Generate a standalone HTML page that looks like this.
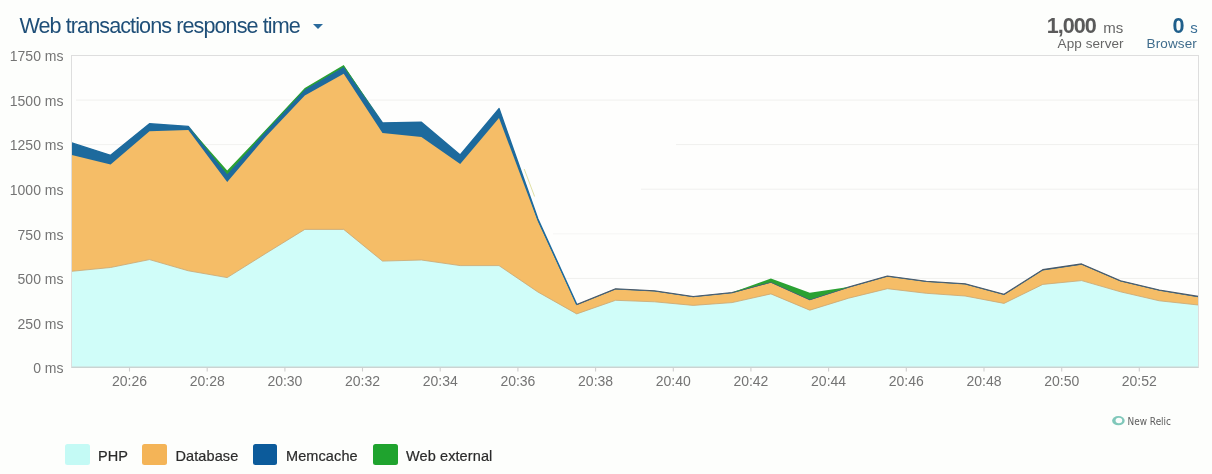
<!DOCTYPE html>
<html><head><meta charset="utf-8"><title>Web transactions response time</title>
<style>
html,body{margin:0;padding:0;background:#fdfefc;}
body{width:1212px;height:474px;overflow:hidden;position:relative;font-family:"Liberation Sans",Arial,Helvetica,sans-serif;}
svg{position:absolute;left:0;top:0;}
svg text{font-family:"Liberation Sans",Arial,Helvetica,sans-serif;}
.ax{font-size:14px;fill:#747474;}
.t{position:absolute;white-space:nowrap;line-height:1;}
#title{left:19.4px;top:15.2px;font-size:21.6px;color:#1f4f78;letter-spacing:-0.92px;}
#tri{position:absolute;left:312.8px;top:24.2px;width:0;height:0;border-left:5.5px solid transparent;border-right:5.5px solid transparent;border-top:5.5px solid #2a6a9c;}
.lg{position:absolute;top:443.6px;width:24.6px;height:21.4px;border-radius:2.5px;margin-left:-0.3px;}
.lt{top:449px;font-size:14.5px;color:#2b2b2b;letter-spacing:0.1px;-webkit-text-stroke:0.2px #2b2b2b;}
</style></head><body>
<svg width="1212" height="474" viewBox="0 0 1212 474">
<rect x="71.5" y="55.5" width="1127" height="312" fill="#fefefd" stroke="#dedede" stroke-width="1"/>
<line x1="1198" x2="1198" y1="322.9" y2="322.9" stroke="#f0f0ee" stroke-width="1"/>
<line x1="560" x2="1198" y1="278.4" y2="278.4" stroke="#f0f0ee" stroke-width="1"/>
<line x1="553" x2="1198" y1="233.8" y2="233.8" stroke="#f6f6f4" stroke-width="1"/>
<line x1="641" x2="1198" y1="189.2" y2="189.2" stroke="#f0f0ee" stroke-width="1"/>
<line x1="676" x2="1198" y1="144.6" y2="144.6" stroke="#f0f0ee" stroke-width="1"/>
<line x1="76" x2="1198" y1="100.1" y2="100.1" stroke="#f0f0ee" stroke-width="1"/>
<line x1="76" x2="262" y1="144.6" y2="144.6" stroke="#f2f2f0" stroke-width="1"/>

<polygon points="71.8,367.2 71.8,142.9 110.6,155.3 149.5,123.7 188.3,126.4 227.2,174.3 266.0,131.3 304.8,89.7 343.7,66.9 382.5,122.9 421.4,122.3 460.2,155.0 499.0,108.6 537.9,219.0 576.7,304.4 615.6,288.7 654.4,290.8 693.2,296.5 732.1,292.5 770.9,282.0 809.8,299.6 848.6,287.0 887.4,276.0 926.3,281.3 965.1,283.7 1004.0,294.3 1042.8,269.6 1081.6,263.9 1120.5,280.8 1159.3,290.0 1198.2,296.4 1198.2,367.2" fill="#1d6a9d"/>
<polygon points="71.8,367.2 71.8,154.9 110.6,164.4 149.5,131.3 188.3,130.0 227.2,182.0 266.0,136.5 304.8,95.4 343.7,73.7 382.5,133.0 421.4,137.0 460.2,163.9 499.0,117.9 537.9,221.5 576.7,305.2 615.6,289.5 654.4,291.6 693.2,297.3 732.1,293.3 770.9,282.7 809.8,300.3 848.6,287.8 887.4,276.8 926.3,282.1 965.1,284.5 1004.0,295.1 1042.8,270.4 1081.6,264.7 1120.5,281.6 1159.3,290.8 1198.2,297.2 1198.2,367.2" fill="#f5bd67"/>
<polygon points="71.8,367.2 71.8,271.3 110.6,267.5 149.5,259.6 188.3,270.8 227.2,277.6 266.0,253.3 304.8,229.4 343.7,229.4 382.5,261.1 421.4,260.0 460.2,265.6 499.0,265.6 537.9,292.0 576.7,313.9 615.6,300.3 654.4,301.8 693.2,305.4 732.1,302.6 770.9,293.9 809.8,310.2 848.6,298.2 887.4,288.7 926.3,293.3 965.1,296.0 1004.0,303.4 1042.8,284.4 1081.6,280.6 1120.5,291.8 1159.3,300.8 1198.2,305.0 1198.2,367.2" fill="#d0fdf9"/>
<polyline points="71.8,271.3 110.6,267.5 149.5,259.6 188.3,270.8 227.2,277.6 266.0,253.3 304.8,229.4 343.7,229.4 382.5,261.1 421.4,260.0 460.2,265.6 499.0,265.6 537.9,292.0 576.7,313.9 615.6,300.3 654.4,301.8 693.2,305.4 732.1,302.6 770.9,293.9 809.8,310.2 848.6,298.2 887.4,288.7 926.3,293.3 965.1,296.0 1004.0,303.4 1042.8,284.4 1081.6,280.6 1120.5,291.8 1159.3,300.8 1198.2,305.0" fill="none" stroke="#c9a672" stroke-width="0.8"/>
<polyline points="71.8,142.9 110.6,155.3 149.5,123.7 188.3,126.4 227.2,174.3 266.0,131.3 304.8,89.7 343.7,66.9 382.5,122.9 421.4,122.3 460.2,155.0 499.0,108.6 537.9,219.0 576.7,304.4" fill="none" stroke="#1d6a9d" stroke-width="1.4" stroke-linejoin="round"/>
<polyline points="576.7,304.4 615.6,288.7 654.4,290.8 693.2,296.5 732.1,292.5 770.9,282.0 809.8,299.6 848.6,287.0 887.4,276.0 926.3,281.3 965.1,283.7 1004.0,294.3 1042.8,269.6 1081.6,263.9 1120.5,280.8 1159.3,290.0 1198.2,296.4" fill="none" stroke="#4a5866" stroke-width="1.1" stroke-linejoin="round"/>
<polygon points="71.8,142.9 110.6,155.3 149.5,123.7 188.3,126.4 227.2,170.6 266.0,129.6 304.8,88.0 343.7,64.9 382.5,122.9 421.4,122.3 460.2,155.0 499.0,108.6 537.9,219.0 576.7,304.4 615.6,288.7 654.4,290.8 693.2,296.5 732.1,292.5 770.9,278.5 809.8,292.7 848.6,287.0 887.4,276.0 926.3,281.3 965.1,283.7 1004.0,294.3 1042.8,269.6 1081.6,263.9 1120.5,280.8 1159.3,290.0 1198.2,296.4 1198.2,296.4 1159.3,290.0 1120.5,280.8 1081.6,263.9 1042.8,269.6 1004.0,294.3 965.1,283.7 926.3,281.3 887.4,276.0 848.6,287.0 809.8,299.6 770.9,282.0 732.1,292.5 693.2,296.5 654.4,290.8 615.6,288.7 576.7,304.4 537.9,219.0 499.0,108.6 460.2,155.0 421.4,122.3 382.5,122.9 343.7,66.9 304.8,89.7 266.0,131.3 227.2,174.3 188.3,126.4 149.5,123.7 110.6,155.3 71.8,142.9" fill="#2aa132"/>
<line x1="524.2" y1="169" x2="534.6" y2="196.5" stroke="#dcdc9a" stroke-width="0.9"/>
<line x1="71.5" x2="1198.5" y1="367.2" y2="367.2" stroke="#cdd6d6" stroke-width="1.2"/>
<line x1="71.5" x2="71.5" y1="55.5" y2="367.5" stroke="#dedede" stroke-width="1"/>
<line x1="1198.5" x2="1198.5" y1="55.5" y2="367.5" stroke="#dedede" stroke-width="1"/>
<text x="63.5" y="373.3" text-anchor="end" class="ax">0 ms</text>
<text x="63.5" y="328.7" text-anchor="end" class="ax">250 ms</text>
<text x="63.5" y="284.2" text-anchor="end" class="ax">500 ms</text>
<text x="63.5" y="239.6" text-anchor="end" class="ax">750 ms</text>
<text x="63.5" y="195.0" text-anchor="end" class="ax">1000 ms</text>
<text x="63.5" y="150.4" text-anchor="end" class="ax">1250 ms</text>
<text x="63.5" y="105.9" text-anchor="end" class="ax">1500 ms</text>
<text x="63.5" y="61.3" text-anchor="end" class="ax">1750 ms</text>

<line x1="129.5" x2="129.5" y1="367.5" y2="371.5" stroke="#cfcfcf" stroke-width="1.1"/>
<text x="129.5" y="385.6" text-anchor="middle" class="ax">20:26</text>
<line x1="207.2" x2="207.2" y1="367.5" y2="371.5" stroke="#cfcfcf" stroke-width="1.1"/>
<text x="207.2" y="385.6" text-anchor="middle" class="ax">20:28</text>
<line x1="284.9" x2="284.9" y1="367.5" y2="371.5" stroke="#cfcfcf" stroke-width="1.1"/>
<text x="284.9" y="385.6" text-anchor="middle" class="ax">20:30</text>
<line x1="362.5" x2="362.5" y1="367.5" y2="371.5" stroke="#cfcfcf" stroke-width="1.1"/>
<text x="362.5" y="385.6" text-anchor="middle" class="ax">20:32</text>
<line x1="440.2" x2="440.2" y1="367.5" y2="371.5" stroke="#cfcfcf" stroke-width="1.1"/>
<text x="440.2" y="385.6" text-anchor="middle" class="ax">20:34</text>
<line x1="517.9" x2="517.9" y1="367.5" y2="371.5" stroke="#cfcfcf" stroke-width="1.1"/>
<text x="517.9" y="385.6" text-anchor="middle" class="ax">20:36</text>
<line x1="595.6" x2="595.6" y1="367.5" y2="371.5" stroke="#cfcfcf" stroke-width="1.1"/>
<text x="595.6" y="385.6" text-anchor="middle" class="ax">20:38</text>
<line x1="673.3" x2="673.3" y1="367.5" y2="371.5" stroke="#cfcfcf" stroke-width="1.1"/>
<text x="673.3" y="385.6" text-anchor="middle" class="ax">20:40</text>
<line x1="750.9" x2="750.9" y1="367.5" y2="371.5" stroke="#cfcfcf" stroke-width="1.1"/>
<text x="750.9" y="385.6" text-anchor="middle" class="ax">20:42</text>
<line x1="828.6" x2="828.6" y1="367.5" y2="371.5" stroke="#cfcfcf" stroke-width="1.1"/>
<text x="828.6" y="385.6" text-anchor="middle" class="ax">20:44</text>
<line x1="906.3" x2="906.3" y1="367.5" y2="371.5" stroke="#cfcfcf" stroke-width="1.1"/>
<text x="906.3" y="385.6" text-anchor="middle" class="ax">20:46</text>
<line x1="984.0" x2="984.0" y1="367.5" y2="371.5" stroke="#cfcfcf" stroke-width="1.1"/>
<text x="984.0" y="385.6" text-anchor="middle" class="ax">20:48</text>
<line x1="1061.7" x2="1061.7" y1="367.5" y2="371.5" stroke="#cfcfcf" stroke-width="1.1"/>
<text x="1061.7" y="385.6" text-anchor="middle" class="ax">20:50</text>
<line x1="1139.3" x2="1139.3" y1="367.5" y2="371.5" stroke="#cfcfcf" stroke-width="1.1"/>
<text x="1139.3" y="385.6" text-anchor="middle" class="ax">20:52</text>

<ellipse cx="1118.4" cy="420.7" rx="6.3" ry="4.6" fill="#80c8ba"/>
<ellipse cx="1118.9" cy="420.5" rx="3.3" ry="2.7" fill="#fbfdfc"/>
<text x="1127.5" y="424.7" font-size="10px" fill="#5c5c5c" style="font-family:'DejaVu Sans','Liberation Sans',sans-serif" textLength="43.5" lengthAdjust="spacingAndGlyphs">New Relic</text>
</svg>
<div id="title" class="t">Web transactions response time</div>
<div id="tri"></div>

<div class="t" id="v1" style="left:1046.8px;top:14.7px;font-size:21.6px;font-weight:bold;color:#5a5a5a;letter-spacing:-1.0px;">1,000</div>
<div class="t" id="u1" style="left:1103.2px;top:20.3px;font-size:15px;color:#666;letter-spacing:0.15px;">ms</div>
<div class="t" id="l1" style="left:1057.6px;top:37.3px;font-size:13.5px;color:#666;letter-spacing:0.08px;">App server</div>
<div class="t" id="v2" style="left:1172.6px;top:14.7px;font-size:21.6px;font-weight:bold;color:#1f5f8b;">0</div>
<div class="t" id="u2" style="left:1190.2px;top:20.3px;font-size:15px;color:#3a6f96;">s</div>
<div class="t" id="l2" style="left:1146.6px;top:37.3px;font-size:13.5px;color:#3f6c8c;letter-spacing:0.12px;">Browser</div>

<div class="lg" style="left:65.5px;background:#c4faf5;"></div>
<div class="t lt" id="g1" style="left:98px;">PHP</div>
<div class="lg" style="left:142.5px;background:#f4b457;"></div>
<div class="t lt" id="g2" style="left:175.5px;">Database</div>
<div class="lg" style="left:253px;background:#0c5b9b;"></div>
<div class="t lt" id="g3" style="left:286px;">Memcache</div>
<div class="lg" style="left:373.5px;background:#1fa32e;"></div>
<div class="t lt" id="g4" style="left:406px;">Web external</div>
</body></html>
